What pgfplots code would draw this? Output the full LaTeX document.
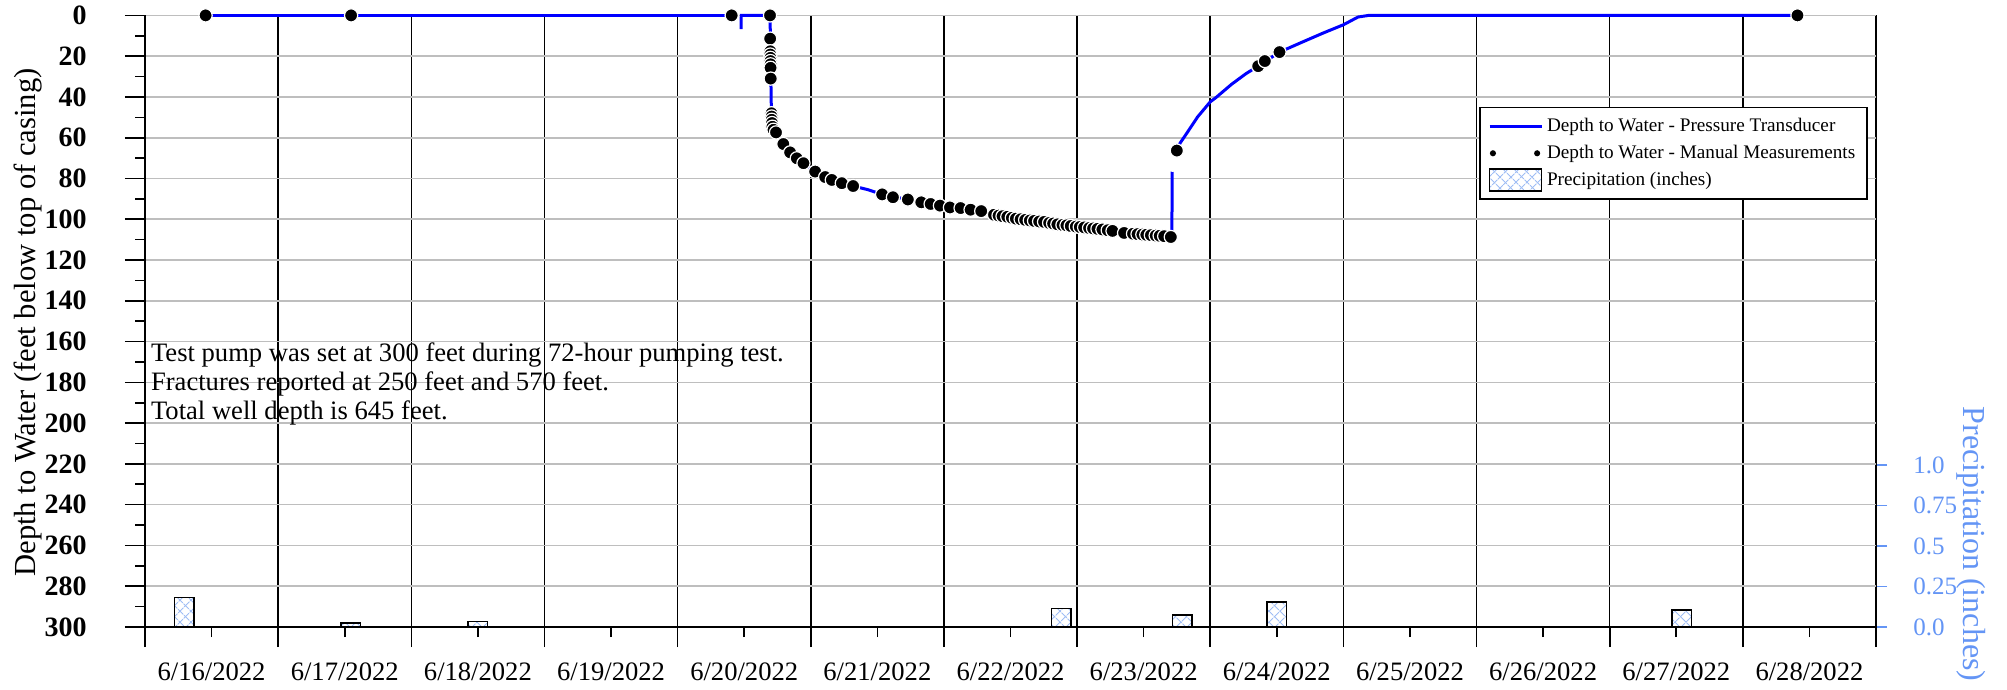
\documentclass[border=0pt]{standalone}
\usepackage{fontspec}
\setmainfont{Liberation Serif}
\usepackage{pgfplots}
\pgfplotsset{compat=1.18}
\usetikzlibrary{patterns.meta}
\definecolor{trblue}{RGB}{0,0,255}
\definecolor{prblue}{RGB}{100,149,245}
\definecolor{hatchblue}{RGB}{160,190,245}
\definecolor{gridgrey}{RGB}{190,190,190}
\tikzset{
  hatchfill/.style={fill=white,
    postaction={pattern={Lines[angle=45,distance=4pt,line width=0.5pt]}, pattern color=hatchblue},
    postaction={pattern={Lines[angle=-45,distance=4pt,line width=0.5pt]}, pattern color=hatchblue}},
}
\begin{document}
\begin{tikzpicture}
\useasboundingbox (0,0) rectangle (1003.5pt,345pt);
% ---------------- precipitation axis (right) ----------------
\begin{axis}[
  at={(505.25pt,184.4pt)}, anchor=center,
  scale only axis, width=865.5pt, height=305.8pt,
  xmin=0, xmax=13, ymin=0, ymax=3.7775,
  xtick=\empty,
  ytick={0,0.25,0.5,0.75,1},
  yticklabels={0.0,0.25,0.5,0.75,1.0},
  ytick pos=right,
  tick align=outside,
  major tick length=5.5pt,
  tick style={prblue, line width=0.8pt},
  axis line style={draw=none},
  yticklabel style={font=\fontsize{12.5}{12.5}\selectfont, text=prblue, anchor=west, inner sep=0pt, xshift=13pt},
  /pgf/number format/assume math mode=true,
  clip=false,
]
\addplot[ybar, bar width=0.147, bar shift=0pt, draw=black, line width=0.8pt, hatchfill] coordinates {
  (0.295,0.183) (1.544,0.023) (2.50,0.035) (6.88,0.115) (7.79,0.075) (8.50,0.155) (11.54,0.104)
};
\draw[prblue, line width=0.8pt] (axis cs:13,0) -- (axis cs:13,1);
\end{axis}
% ---------------- depth to water axis ----------------
\begin{axis}[
  at={(505.25pt,184.4pt)}, anchor=center,
  scale only axis, width=865.5pt, height=305.8pt,
  xmin=0, xmax=13, ymin=0, ymax=300, y dir=reverse,
  xtick={0,1,...,13},
  xticklabels={6/16/2022,6/17/2022,6/18/2022,6/19/2022,6/20/2022,6/21/2022,6/22/2022,6/23/2022,6/24/2022,6/25/2022,6/26/2022,6/27/2022,6/28/2022,{}},
  minor x tick num=1,
  ytick={0,20,...,300}, minor y tick num=1,
  xtick pos=left, ytick pos=left,
  tick align=outside,
  major tick length=10pt, minor tick length=5pt,
  tick style={black, line width=0.8pt},
  xmajorgrids, ymajorgrids,
  x grid style={black, line width=0.75pt},
  y grid style={gridgrey, line width=0.8pt},
  axis line style={draw=none},
  xticklabel style={font=\fontsize{13.3}{13.3}\selectfont, anchor=north, inner sep=0pt, xshift=33.29pt, yshift=-7.6pt},
  yticklabel style={font=\bfseries\fontsize{14}{14}\selectfont, anchor=east, inner sep=0pt, xshift=-19pt},
  /pgf/number format/assume math mode=true,
  clip=false,
  legend cell align=left,
  legend style={at={(0.9954,0.8509)}, anchor=north east, draw=black, line width=0.8pt, fill=white,
    font=\fontsize{9.6}{11.2}\selectfont, inner xsep=4pt, inner ysep=3.5pt, row sep=1.2pt},
]
\draw[black, line width=0.8pt] (axis cs:0,0) -- (axis cs:0,300);
\draw[black, line width=0.8pt] (axis cs:0,300) -- (axis cs:13,300);
% transducer, first segment
\addplot[trblue, line width=1.5pt, forget plot] coordinates {(0.50,0) (4.41,0)};
% transducer, main record
\addplot[trblue, line width=1.5pt,
  legend image code/.code={\draw[trblue, line width=1.5pt] (0pt,0pt) -- (26pt,0pt);}] coordinates {
  (4.476,6.7) (4.478,0) (4.694,0) (4.699,20) (4.702,40) (4.705,48) (4.712,54.6) (4.739,57.4)
  (4.794,63.1) (4.845,67.2) (4.895,70.1) (4.945,72.5) (5.033,76.6) (5.108,79.3) (5.233,82.3)
  (5.318,83.7) (5.43,85.5) (5.536,87.8) (5.729,90.3) (5.97,93.3) (6.28,96.0) (6.576,100.0)
  (6.952,103.3) (7.266,105.7) (7.554,107.8) (7.704,108.7) (7.712,108.5) (7.714,77) (7.749,66.3)
  (7.774,62.6) (7.83,57.2) (7.905,49.8) (8.0,42.4) (8.043,40.3) (8.16,33.8) (8.27,28.5)
  (8.36,24.9) (8.52,18.0) (8.705,12.7) (8.85,8.6) (9.0,4.6) (9.11,0.8) (9.19,0) (12.41,0)
};
\addlegendentry{Depth to Water - Pressure Transducer}
% faint (white) manual markers
\addplot[only marks, mark=*, mark size=3.3pt, mark options={fill=white, draw=white}, forget plot] coordinates {
  (7.722,70.5) (7.726,72.0) (7.730,73.5)
};
% manual measurements
\addplot[only marks, mark=*, mark size=3.3pt, mark options={fill=black, draw=white, line width=0.6pt},
  legend image code/.code={\fill[black] (1.7pt,0pt) circle (1.1pt); \fill[black] (23.8pt,0pt) circle (1.1pt);}] coordinates {
  (0.455,0) (1.548,0) (4.406,0) (4.694,0)
  (4.695,11.4) (4.696,17.6) (4.696,19.2) (4.697,20.8) (4.697,22.4) (4.698,24.0) (4.698,25.7) (4.699,31.0)
  (4.705,48.0) (4.706,49.6) (4.707,51.2) (4.709,52.8) (4.712,54.6) (4.720,56.1) (4.739,57.4)
  (4.794,63.1) (4.845,67.2) (4.895,70.1) (4.945,72.5) (5.033,76.6) (5.108,79.3) (5.158,80.7)
  (5.233,82.3) (5.318,83.7) (5.536,87.8) (5.617,89.2) (5.729,90.3) (5.830,91.7) (5.900,92.5)
  (5.970,93.3) (6.045,94.2) (6.125,94.5) (6.200,95.3) (6.280,96.0) (6.376,97.8) (6.41,98.2)
  (6.44,98.5) (6.476,98.8) (6.51,99.3) (6.54,99.7) (6.576,100.0) (6.61,100.3) (6.645,100.6)
  (6.677,100.8) (6.715,101.1) (6.752,101.3) (6.79,101.8) (6.82,102.1) (6.852,102.5) (6.89,102.8)
  (6.92,103.0) (6.952,103.3) (6.99,103.6) (7.02,103.8) (7.053,104.0) (7.09,104.3) (7.12,104.5)
  (7.153,104.7) (7.19,105.0) (7.23,105.4) (7.266,105.7) (7.353,106.7) (7.42,107.1) (7.454,107.3)
  (7.49,107.5) (7.52,107.6) (7.554,107.8) (7.59,108.0) (7.62,108.1) (7.654,108.3) (7.704,108.7)
  (7.749,66.3) (8.36,24.9) (8.41,22.4) (8.52,18.0) (12.41,0)
};
\addlegendentry{Depth to Water - Manual Measurements}
\addlegendimage{legend image code/.code={\draw[black, line width=0.8pt, hatchfill] (0pt,-5.4pt) rectangle (26pt,5.4pt);}}
\addlegendentry{Precipitation (inches)}
% annotation
\node[anchor=base west, inner sep=0pt, font=\fontsize{13.3}{16}\selectfont] at (axis cs:0.0425,170) {Test pump was set at 300 feet during 72-hour pumping test.};
\node[anchor=base west, inner sep=0pt, font=\fontsize{13.3}{16}\selectfont] at (axis cs:0.0425,184) {Fractures reported at 250 feet and 570 feet.};
\node[anchor=base west, inner sep=0pt, font=\fontsize{13.3}{16}\selectfont] at (axis cs:0.0425,198) {Total well depth is 645 feet.};
\end{axis}
% axis titles
\node[rotate=90, font=\fontsize{15.3}{15.3}\selectfont] at (14pt,183.75pt) {Depth to Water (feet below top of casing)};
\node[rotate=-90, font=\fontsize{16}{16}\selectfont, text=prblue] at (985.7pt,73pt) {Precipitation (inches)};
\end{tikzpicture}
\end{document}
